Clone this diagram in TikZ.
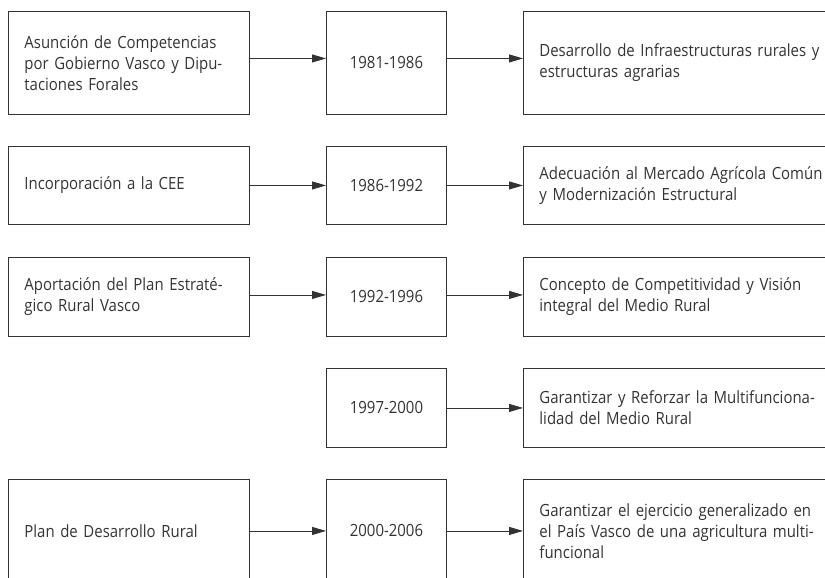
\documentclass[tikz,border=0pt]{standalone}
\usepackage{fontspec}
\setmainfont{Open Sans}[FakeStretch=0.89]
\usetikzlibrary{arrows.meta}
\definecolor{ink}{HTML}{333333}
\newcommand\jlL[1]{\makebox[209pt][s]{#1}}
\newcommand\jlR[1]{\makebox[280pt][s]{#1}}
\begin{document}
\begin{tikzpicture}[x=1pt,y=-1pt,
  box/.style={draw=ink,line width=0.9pt,text=ink,font=\fontsize{16.8}{21}\selectfont,inner sep=0pt,anchor=north west},
  lbox/.style={box,minimum width=241pt,text width=209pt,align=left},
  mbox/.style={box,minimum width=120pt,align=center},
  rbox/.style={box,minimum width=312pt,text width=280pt,align=left},
  arr/.style={draw=ink,line width=0.9pt,-{Triangle[length=14pt,width=8pt]}}]
\useasboundingbox (0,0) rectangle (825,578);
\clip (0,0) rectangle (825,578);
% row 1
\node[lbox,minimum height=103pt] (l1) at (8,11) {\jlL{Asunción de Competencias}\\\jlL{por Gobierno Vasco y Dipu-}\\taciones Forales};
\node[mbox,minimum height=103pt] (m1) at (326,11) {1981-1986};
\node[rbox,minimum height=103pt] (r1) at (523,11) {\jlR{Desarrollo de Infraestructuras rurales y}\\estructuras agrarias};
% row 2
\node[lbox,minimum height=78pt] (l2) at (8,146) {Incorporación a la CEE};
\node[mbox,minimum height=78pt] (m2) at (326,146) {1986-1992};
\node[rbox,minimum height=78pt] (r2) at (523,146) {\jlR{Adecuación al Mercado Agrícola Común}\\y Modernización Estructural};
% row 3
\node[lbox,minimum height=79pt] (l3) at (8,257) {\jlL{Aportación del Plan Estraté-}\\gico Rural Vasco};
\node[mbox,minimum height=79pt] (m3) at (326,257) {1992-1996};
\node[rbox,minimum height=79pt] (r3) at (523,257) {\jlR{Concepto de Competitividad y Visión}\\integral del Medio Rural};
% row 4
\node[mbox,minimum height=79pt] (m4) at (326,368) {1997-2000};
\node[rbox,minimum height=79pt] (r4) at (523,368) {\jlR{Garantizar y Reforzar la Multifunciona-}\\lidad del Medio Rural};
% row 5
\node[lbox,minimum height=103pt] (l5) at (8,479) {Plan de Desarrollo Rural};
\node[mbox,minimum height=103pt] (m5) at (326,479) {2000-2006};
\node[rbox,minimum height=103pt] (r5) at (523,479) {\jlR{Garantizar el ejercicio generalizado en}\\\jlR{el País Vasco de una agricultura multi-}\\funcional};
% arrows
\draw[arr] ([yshift=4.5pt]l1.east) -- ([yshift=4.5pt]m1.west);
\draw[arr] ([yshift=4.5pt]m1.east) -- ([yshift=4.5pt]r1.west);
\draw[arr] (l2.east) -- (m2.west);
\draw[arr] (m2.east) -- (r2.west);
\draw[arr] ([yshift=2pt]l3.east) -- ([yshift=2pt]m3.west);
\draw[arr] ([yshift=2pt]m3.east) -- ([yshift=2pt]r3.west);
\draw[arr] (m4.east) -- (r4.west);
\draw[arr] (l5.east) -- (m5.west);
\draw[arr] (m5.east) -- (r5.west);
\end{tikzpicture}
\end{document}
